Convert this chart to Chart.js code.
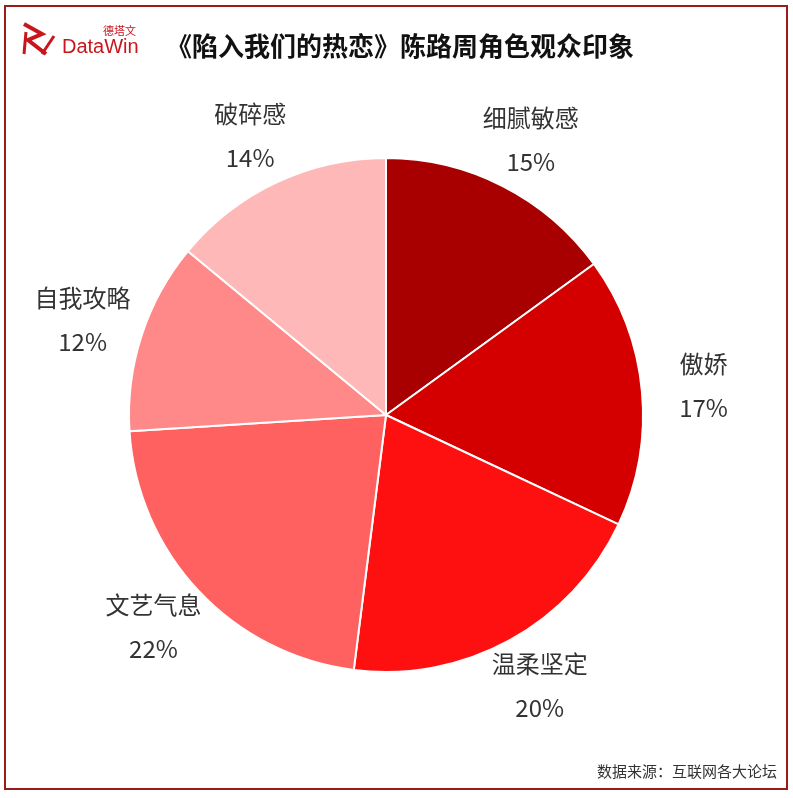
<!DOCTYPE html>
<html>
<head>
<meta charset="utf-8">
<script src="https://cdn.jsdelivr.net/npm/chart.js@4/dist/chart.umd.min.js"></script>
<style>
  body { margin: 0; background: #fff; font-family: "Noto Sans CJK SC", "Noto Sans", sans-serif; }
  #wrap { position: relative; width: 793px; height: 798px; }
  #frame { position: absolute; left: 4px; top: 5px; width: 780px; height: 781px; border: 2px solid #9b1b1b; }
  #logo { position: absolute; left: 20px; top: 20px; color: #c8161d; white-space: nowrap; }
  #logo svg { position: absolute; left: 0; top: 0; }
  #logo .cn { position: absolute; left: 83px; top: 2px; font-size: 11px; }
  #logo .en { position: absolute; left: 42px; top: 15px; font: 20px "Liberation Sans"; }
  #title { position: absolute; left: 166px; top: 26px; font-size: 26px; font-weight: bold; color: #111; white-space: nowrap; }
  #source { position: absolute; right: 16px; top: 760px; font-size: 15px; color: #333; }
  canvas { position: absolute; left: 0; top: 0; }
</style>
</head>
<body>
<div id="wrap">
  <div id="frame"></div>
  <canvas id="pie" width="793" height="798"></canvas>
  <div id="logo">
    <svg width="40" height="40" viewBox="0 0 40 40">
      <path d="M4 4 L22 14 L8 20 L26 34" stroke="#c8161d" stroke-width="4" fill="none"/>
      <path d="M6 12 L4 34" stroke="#c8161d" stroke-width="3" fill="none"/>
      <path d="M22 34 L34 16" stroke="#c8161d" stroke-width="3" fill="none"/>
    </svg>
    <span class="cn">德塔文</span><span class="en">DataWin</span>
  </div>
  <div id="title">《陷入我们的热恋》陈路周角色观众印象</div>
  <div id="source">数据来源：互联网各大论坛</div>
</div>
<script>
const categories = ["细腻敏感", "傲娇", "温柔坚定", "文艺气息", "自我攻略", "破碎感"]
const shares = [15, 17, 20, 22, 12, 14]
const colors = ["#a80000", "#d40000", "#ff1010", "#ff6060", "#ff8888", "#ffb8b8"]

// Draw category name and percentage outside each slice
const outsideLabels = {
  id: "outsideLabels",
  afterDatasetsDraw(chart) {
    const ctx = chart.ctx
    const meta = chart.getDatasetMeta(0)
    ctx.save()
    ctx.font = "24px 'Noto Sans CJK SC'"
    ctx.fillStyle = "#333"
    ctx.textAlign = "center"
    ctx.textBaseline = "middle"
    meta.data.forEach((arc, i) => {
      const mid = (arc.startAngle + arc.endAngle) / 2
      const x = arc.x + Math.cos(mid) * (arc.outerRadius + 62)
      const y = arc.y + Math.sin(mid) * (arc.outerRadius + 52)
      ctx.fillText(categories[i], x, y - 22)
      ctx.fillText(shares[i] + "%", x, y + 22)
    })
    ctx.restore()
  },
}

new Chart(document.getElementById("pie"), {
  type: "pie",
  data: {
    labels: categories,
    datasets: [{ data: shares, backgroundColor: colors, borderColor: "#fff", borderWidth: 2 }],
  },
  options: {
    responsive: false,
    animation: false,
    layout: { padding: { left: 128, right: 149, top: 157, bottom: 125 } },
    plugins: { legend: { display: false }, tooltip: { enabled: false } },
  },
  plugins: [outsideLabels],
})
</script>
</body>
</html>
